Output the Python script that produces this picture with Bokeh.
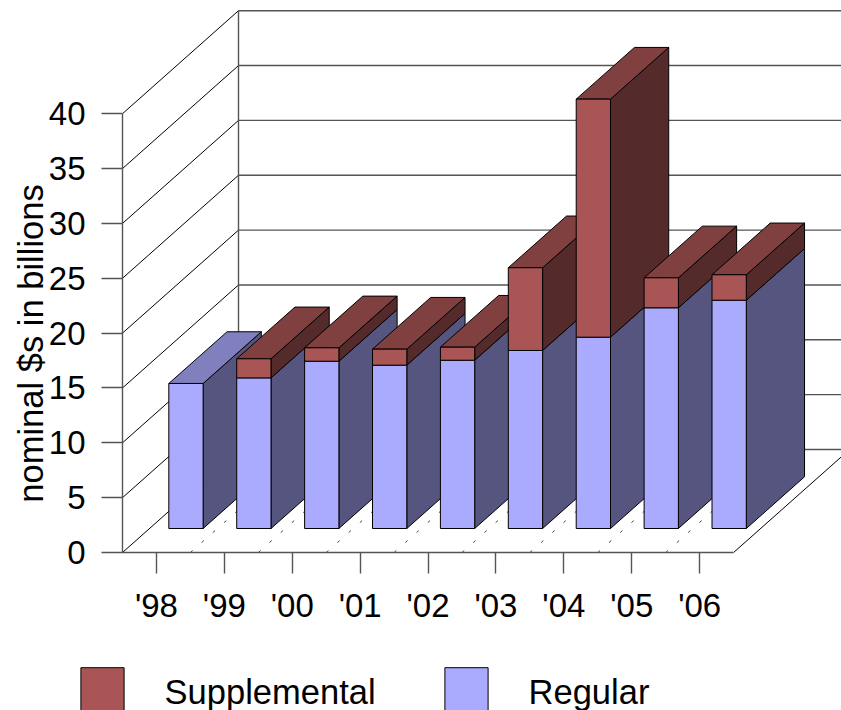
from bokeh.plotting import figure
from bokeh.models import FixedTicker, Legend, LegendItem, Label
from bokeh.embed import file_html
from bokeh.resources import INLINE
import math

years = ["'98", "'99", "'00", "'01", "'02", "'03", "'04", "'05", "'06"]
regular = [13.22, 13.73, 15.25, 14.89, 15.34, 16.23, 17.44, 20.12, 20.81]
supplemental = [0, 1.74, 1.22, 1.46, 1.19, 7.54, 21.70, 2.73, 2.32]
y_ticks = [0, 5, 10, 15, 20, 25, 30, 35, 40]

FONT = "Liberation Sans"
PX_X = 67.9    # pixels per category
PX_Y = 10.97   # pixels per value unit
DEPTH_X = 116 / PX_X   # category units for the whole depth
DEPTH_Y = 103 / PX_Y   # value units for the whole depth
T0, T1 = 0.233, 0.735  # depth span of the bars
BAR_OFF, BAR_W = 0.284, 0.505

REG = ("#AAAAFF", "#55557F", "#8080BF")
SUP = ("#AA5555", "#552A2A", "#804040")
INK = "#000000"
RULE = "#555555"

p = figure(width=841, height=710, output_backend="svg", toolbar_location=None,
           x_range=(-122 / PX_X, 719 / PX_X), y_range=(-158 / PX_Y, 552 / PX_Y),
           min_border=0, outline_line_color=None)
p.xgrid.visible = False
p.ygrid.visible = False


def px(i, t):
    return i + t * DEPTH_X


def py(v, t):
    return v + t * DEPTH_Y


# walls and floor
xmax = 719 / PX_X + 1
for v in y_ticks:
    p.line([px(0, 0), px(0, 1)], [py(v, 0), py(v, 1)], line_color=INK, line_width=1)
    p.line([px(0, 1), xmax], [py(v, 1), py(v, 1)], line_color=RULE, line_width=1.4)
p.line([px(0, 1), px(0, 1)], [py(0, 1), py(40, 1)], line_color=RULE, line_width=1.4)
n = len(years)
p.line([px(n, 0), px(n, 1)], [py(0, 0), py(0, 1)], line_color=INK, line_width=1)
for k in range(1, n):
    p.line([px(k, 0), px(k, 1)], [py(0, 0), py(0, 1)], line_color="#444444",
           line_width=1, line_dash="3 12")

# bars, painted left to right
rend = {}


def box(k, v0, v1, cols, show_top, key):
    L = k + BAR_OFF
    R = L + BAR_W
    p.patch([px(R, T0), px(R, T0), px(R, T1), px(R, T1)],
            [py(v0, T0), py(v1, T0), py(v1, T1), py(v0, T1)],
            fill_color=cols[1], line_color=INK, line_width=1)
    if show_top:
        p.patch([px(L, T0), px(R, T0), px(R, T1), px(L, T1)],
                [py(v1, T0), py(v1, T0), py(v1, T1), py(v1, T1)],
                fill_color=cols[2], line_color=INK, line_width=1)
    r = p.quad(left=px(L, T0), right=px(R, T0), bottom=py(v0, T0), top=py(v1, T0),
               fill_color=cols[0], line_color=INK, line_width=1)
    rend.setdefault(key, r)


for k, (a, b) in enumerate(zip(regular, supplemental)):
    box(k, 0, a, REG, b == 0, "reg")
    if b > 0:
        box(k, a, a + b, SUP, True, "sup")

# axes fixed on the front plane
for ax in (p.xaxis[0], p.yaxis[0]):
    ax.major_label_text_font = FONT
    ax.major_label_text_font_size = "33px"
    ax.major_label_text_color = "#000000"
    ax.axis_line_color = RULE
    ax.axis_line_width = 1.4
    ax.major_tick_line_color = RULE
    ax.major_tick_line_width = 1.4
    ax.major_tick_in = 0
    ax.major_tick_out = 21
    ax.minor_tick_line_color = None

p.yaxis[0].major_label_standoff = 16
p.xaxis[0].major_label_standoff = 13

p.yaxis[0].fixed_location = 0
p.yaxis[0].bounds = (0, 40)
p.yaxis[0].ticker = FixedTicker(ticks=y_ticks)

x_ticks = [k + 0.5 for k in range(n)]
p.xaxis[0].fixed_location = 0
p.xaxis[0].bounds = (0, n)
p.xaxis[0].ticker = FixedTicker(ticks=x_ticks)
p.xaxis[0].major_label_overrides = dict(zip(x_ticks, years))

p.add_layout(Label(x=-92 / PX_X, y=209 / PX_Y, text="nominal $s in billions",
                   angle=math.pi / 2, text_align="center", text_baseline="middle",
                   text_font=FONT, text_font_size="34.5px", text_color="#000000"))

legend = Legend(items=[LegendItem(label="Supplemental", renderers=[rend["sup"]]),
                       LegendItem(label="Regular", renderers=[rend["reg"]])],
                orientation="horizontal", location=(74.6, -13),
                glyph_width=54, glyph_height=62, label_standoff=36, spacing=63,
                padding=0, margin=0, border_line_color=None,
                background_fill_alpha=0,
                label_text_font=FONT, label_text_font_size="34.5px",
                label_text_color="#000000")
p.add_layout(legend)

open("out.html", "w").write(file_html(p, INLINE))
